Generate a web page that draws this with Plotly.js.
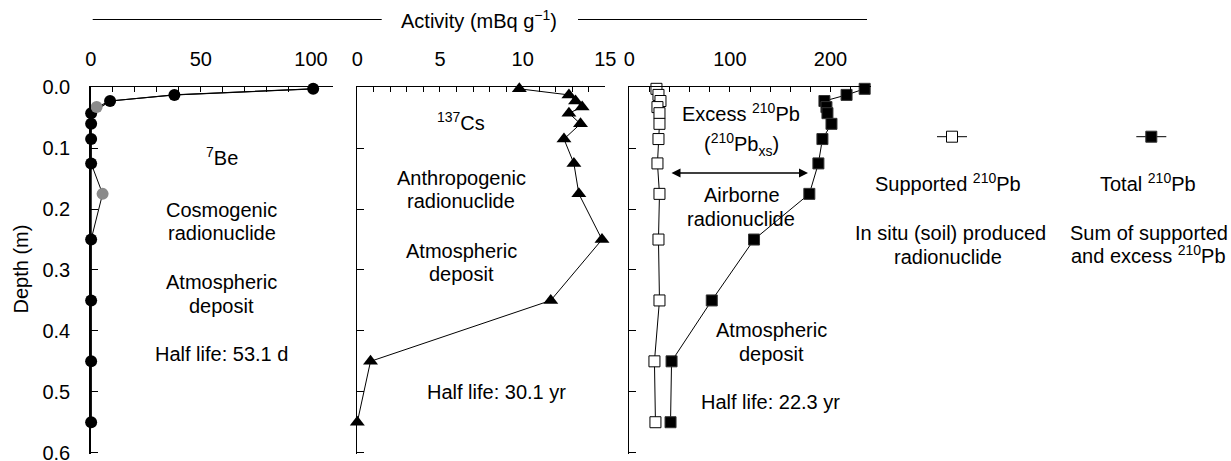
<!DOCTYPE html>
<html><head><meta charset="utf-8">
<script src="https://cdn.plot.ly/plotly-3.0.1.min.js"></script>
<style>html,body{margin:0;padding:0;background:#fff}#chart{width:1231px;height:461px}</style>
</head><body><div id="chart"></div>
<script>
// ---- data ----
const depth = [0.0025, 0.0125, 0.0225, 0.0325, 0.0425, 0.06, 0.085, 0.125, 0.175, 0.25, 0.35, 0.45, 0.55];
const be7 = [101, 38, 8.8, 2.7, 0.2, 0.2, 0.2, 0.2, 5.4, 0.2, 0.2, 0.2, 0.2];
const be7Outlier = [false, false, false, true, false, false, false, false, true, false, false, false, false];
const cs137 = [9.8, 12.8, 13.2, 13.6, 12.8, 13.5, 12.5, 13.1, 13.4, 14.8, 11.7, 0.8, 0.0];
const pbSupported = [27, 29, 31, 28, 30, 30, 29, 28, 30, 29, 30, 25, 26];
const pbTotal = [234, 216, 194, 196, 197, 201, 192, 188, 179, 124, 82, 42, 41];
const beTickLabels = [0, 50, 100];
const csTickLabels = [0, 5, 10, 15];
const pbTickLabels = [0, 100, 200];
const depthTicks = [0, 0.1, 0.2, 0.3, 0.4, 0.5, 0.6];

// ---- helpers ----
const W = 1231, H = 461;
const X = p => p / W;
const Y = p => 1 - p / H;
const FONT = 'Liberation Sans, Arial, Helvetica, sans-serif';

const beMain = depth.map((d, i) => be7Outlier[i] ? null : i).filter(i => i !== null);
const beOut = depth.map((d, i) => be7Outlier[i] ? i : null).filter(i => i !== null);

const traces = [
  {x: be7, y: depth, xaxis: 'x', yaxis: 'y', mode: 'lines', line: {color: 'black', width: 1}, showlegend: false, hoverinfo: 'skip'},
  {x: beMain.map(i => be7[i]), y: beMain.map(i => depth[i]), xaxis: 'x', yaxis: 'y', mode: 'lines+markers',
   line: {color: 'black', width: 1.2}, marker: {symbol: 'circle', size: 12, color: 'black'}, cliponaxis: false, showlegend: false},
  {x: beOut.map(i => be7[i]), y: beOut.map(i => depth[i]), xaxis: 'x', yaxis: 'y', mode: 'markers',
   marker: {symbol: 'circle', size: 12, color: '#8a8a8a'}, cliponaxis: false, showlegend: false},
  {x: cs137, y: depth, xaxis: 'x2', yaxis: 'y2', mode: 'lines+markers', line: {color: 'black', width: 1},
   marker: {symbol: 'triangle-up', size: 13, color: 'black'}, cliponaxis: false, showlegend: false},
  {x: pbSupported, y: depth, xaxis: 'x3', yaxis: 'y3', mode: 'lines+markers', name: ' ', legend: 'legend',
   line: {color: 'black', width: 1}, marker: {symbol: 'square', size: 11, color: 'white', line: {color: 'black', width: 1}}, cliponaxis: false},
  {x: pbTotal, y: depth, xaxis: 'x3', yaxis: 'y3', mode: 'lines+markers', name: ' ', legend: 'legend2',
   line: {color: 'black', width: 1}, marker: {symbol: 'square', size: 11, color: 'black', line: {color: '#333', width: 1}}, cliponaxis: false}
];

const yDom = [Y(453.9), Y(87.3)];
function xAx(dom, range, labels, minorStep, yref) {
  return {domain: dom, range: range, side: 'top', anchor: yref, showline: true, linecolor: 'black', linewidth: 1.5,
    ticks: 'inside', ticklen: 5, tickwidth: 1, tickcolor: 'black', tickvals: labels,
    minor: {dtick: minorStep, tick0: 0, ticks: 'inside', ticklen: 5, tickwidth: 1, tickcolor: 'black', showgrid: false},
    showgrid: false, zeroline: false, tickfont: {size: 20, color: 'black', family: FONT}, ticklabelstandoff: 12, fixedrange: true};
}
function yAx(xref, labels) {
  return {domain: yDom, range: [0.602, 0], anchor: xref, showline: true, linecolor: 'black', linewidth: 1.5,
    ticks: 'inside', ticklen: 7, tickwidth: 1, tickcolor: 'black', tickvals: depthTicks, tickformat: '.1f',
    showticklabels: labels, showgrid: false, zeroline: false, ticklabeloverflow: 'allow',
    tickfont: {size: 20, color: 'black', family: FONT}, ticklabelstandoff: 15, fixedrange: true};
}

const txt = [
  ['<sup>7</sup>Be', 221.5, 157], ['Cosmogenic', 221.5, 210], ['radionuclide', 221.5, 233],
  ['Atmospheric', 221.5, 282], ['deposit', 221.5, 306], ['Half life: 53.1 d', 221.5, 354],
  ['<sup>137</sup>Cs', 460.5, 121], ['Anthropogenic', 461, 178], ['radionuclide', 460.5, 201],
  ['Atmospheric', 461, 251], ['deposit', 461, 274], ['Half life: 30.1 yr', 496, 392],
  ['Excess <sup>210</sup>Pb', 741, 112], ['(<sup>210</sup>Pb<sub>xs</sub>)', 741.7, 145],
  ['Airborne', 741.5, 195], ['radionuclide', 741, 219],
  ['Atmospheric', 771.7, 330], ['deposit', 771.7, 354], ['Half life: 22.3 yr', 770.8, 401.7],
  ['Supported <sup>210</sup>Pb', 948.3, 182], ['In situ (soil) produced', 950, 233], ['radionuclide', 947.5, 257],
  ['Total <sup>210</sup>Pb', 1148.3, 182], ['Sum of supported', 1148.5, 233], ['and excess <sup>210</sup>Pb', 1148.5, 254],
  ['Activity (mBq g<sup>−1</sup>)', 479, 19]
];
const annotations = txt.map(t => ({text: t[0], x: X(t[1]), y: Y(t[2]), xref: 'paper', yref: 'paper',
  xanchor: 'center', yanchor: 'middle', showarrow: false, font: {size: 20, color: 'black', family: FONT}}));
annotations.push({text: 'Depth (m)', x: X(20), y: Y(268.5), xref: 'paper', yref: 'paper', textangle: -90,
  xanchor: 'center', yanchor: 'middle', showarrow: false, font: {size: 20, color: 'black', family: FONT}});
annotations.push({text: '', x: X(808), y: Y(173), ax: X(670), ay: Y(173), xref: 'paper', yref: 'paper',
  axref: 'paper', ayref: 'paper', showarrow: true, arrowside: 'end+start', arrowhead: 2, arrowsize: 1.2,
  arrowwidth: 1.5, arrowcolor: 'black'});

const layout = {
  width: W, height: H, margin: {l: 0, r: 0, t: 0, b: 0}, paper_bgcolor: 'white', plot_bgcolor: 'rgba(0,0,0,0)',
  font: {family: FONT, color: 'black', size: 20},
  xaxis: xAx([X(90.7), X(333)], [0, 110], beTickLabels, 10, 'y'),
  xaxis2: xAx([X(357.3), X(605.3)], [0, 15], csTickLabels, 1, 'y2'),
  xaxis3: xAx([X(629.3), X(870.7)], [0, 240], pbTickLabels, 20, 'y3'),
  yaxis: yAx('x', true), yaxis2: yAx('x2', false), yaxis3: yAx('x3', false),
  showlegend: true,
  legend: {x: X(932), y: Y(136.7), xanchor: 'left', yanchor: 'middle', bgcolor: 'rgba(0,0,0,0)', font: {size: 10}, itemwidth: 30},
  legend2: {x: X(1131.3), y: Y(136.7), xanchor: 'left', yanchor: 'middle', bgcolor: 'rgba(0,0,0,0)', font: {size: 10}, itemwidth: 30},
  shapes: [
    {type: 'line', xref: 'paper', yref: 'paper', x0: X(92.7), x1: X(381.7), y0: Y(19.5), y1: Y(19.5), line: {color: 'black', width: 1.2}},
    {type: 'line', xref: 'paper', yref: 'paper', x0: X(578), x1: X(867), y0: Y(19.5), y1: Y(19.5), line: {color: 'black', width: 1.2}}
  ],
  annotations: annotations
};
Plotly.newPlot('chart', traces, layout, {displayModeBar: false, staticPlot: true});
</script></body></html>
